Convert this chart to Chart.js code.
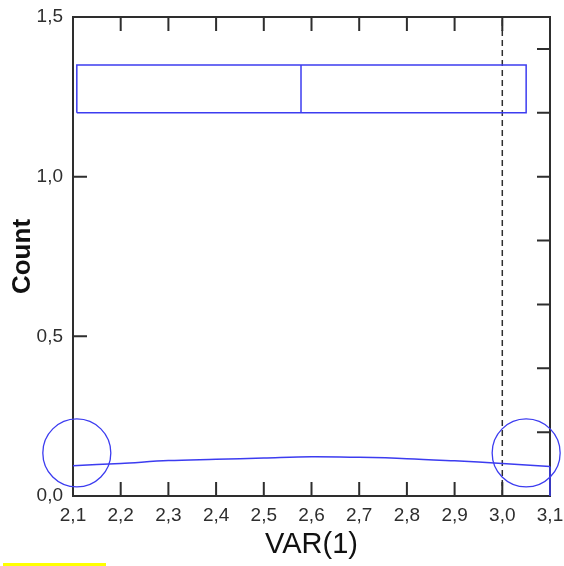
<!DOCTYPE html>
<html>
<head>
<meta charset="utf-8">
<script src="https://cdn.jsdelivr.net/npm/chart.js@4/dist/chart.umd.min.js"></script>
<style>
    html, body { margin: 0; padding: 0; background: #fff; }
    #wrap { position: relative; width: 564px; height: 566px; }
    #marker { position: absolute; left: 3px; top: 563px; width: 103px; height: 3px; background: #ffff00; }
</style>
</head>
<body>
<div id="wrap">
    <canvas id="chart" width="564" height="566"></canvas>
    <div id="marker"></div>
</div>
<script>
    // axis ticks
    var xTicks = [2.1, 2.2, 2.3, 2.4, 2.5, 2.6, 2.7, 2.8, 2.9, 3.0, 3.1];
    var yTicks = [0, 0.5, 1.0, 1.5];
    var rightTicks = [0.2, 0.4, 0.6, 0.8, 1.0, 1.2, 1.4];

    // observed values (the two cases)
    var pointX = [2.108, 3.05];
    var pointY = [0.135, 0.135];

    // box plot at top
    var boxMedian = 2.578;
    var boxBottom = 1.2;
    var boxTop = 1.35;

    // reference line
    var refX = 3.0;

    // smoothed density
    var curveX = [2.1, 2.2, 2.3, 2.4, 2.5, 2.6, 2.7, 2.8, 2.9, 3.0, 3.1];
    var curveY = [0.095, 0.102, 0.111, 0.115, 0.119, 0.123, 0.121, 0.117, 0.110, 0.102, 0.092];

    var BLUE = '#3c3cf0';
    var INK = '#2e2e2e';
    var FONT = '"Liberation Sans", Arial, sans-serif';

    function fmt(v) {
        return Number(v).toFixed(1).replace('.', ',');
    }

    function xy(xs, ys) {
        return xs.map(function (x, i) { return { x: x, y: ys[i] }; });
    }

    var last = curveX.length - 1;
    var lo = pointX[0], hi = pointX[pointX.length - 1];

    var datasets = [
        {   // density curve
            data: xy(curveX, curveY),
            showLine: true, borderColor: BLUE, borderWidth: 1.5,
            pointRadius: 0, tension: 0.35, clip: false
        },
        {   // curve closes down to the axis on the right
            data: [{ x: curveX[last], y: curveY[last] }, { x: curveX[last], y: 0 }],
            showLine: true, borderColor: BLUE, borderWidth: 1.5,
            pointRadius: 0, clip: false
        },
        {   // case markers
            data: xy(pointX, pointY),
            showLine: false, pointStyle: 'circle', pointRadius: 34,
            pointBorderColor: BLUE, pointBackgroundColor: 'rgba(0,0,0,0)',
            pointBorderWidth: 1.3, pointHoverRadius: 34, clip: false
        },
        {   // box
            data: [
                { x: lo, y: boxBottom }, { x: lo, y: boxTop },
                { x: hi, y: boxTop }, { x: hi, y: boxBottom },
                { x: lo, y: boxBottom }
            ],
            showLine: true, borderColor: BLUE, borderWidth: 1.5,
            pointRadius: 0, clip: false
        },
        {   // median
            data: [{ x: boxMedian, y: boxBottom }, { x: boxMedian, y: boxTop }],
            showLine: true, borderColor: BLUE, borderWidth: 1.5,
            pointRadius: 0, clip: false
        },
        {   // dashed reference line
            data: [{ x: refX, y: yTicks[0] }, { x: refX, y: yTicks[yTicks.length - 1] }],
            showLine: true, borderColor: INK, borderWidth: 1.5, borderDash: [6, 4],
            pointRadius: 0, clip: false
        }
    ];

    // frame and inward tick marks
    var framePlugin = {
        id: 'frame',
        beforeDatasetsDraw: function (chart) {
            var ctx = chart.ctx;
            var a = chart.chartArea;
            var sx = chart.scales.x, sy = chart.scales.y;
            var len = 14;
            ctx.save();
            ctx.strokeStyle = INK;
            ctx.lineWidth = 2;
            ctx.strokeRect(a.left, a.top, a.right - a.left, a.bottom - a.top);
            ctx.beginPath();
            xTicks.slice(1, -1).forEach(function (v) {
                var px = sx.getPixelForValue(v);
                ctx.moveTo(px, a.bottom); ctx.lineTo(px, a.bottom - len);
                ctx.moveTo(px, a.top); ctx.lineTo(px, a.top + len);
            });
            yTicks.slice(1, -1).forEach(function (v) {
                var py = sy.getPixelForValue(v);
                ctx.moveTo(a.left, py); ctx.lineTo(a.left + len, py);
            });
            rightTicks.forEach(function (v) {
                var py = sy.getPixelForValue(v);
                ctx.moveTo(a.right, py); ctx.lineTo(a.right - len + 1, py);
            });
            ctx.stroke();
            ctx.restore();
        }
    };

    new Chart(document.getElementById('chart').getContext('2d'), {
        type: 'scatter',
        data: { datasets: datasets },
        plugins: [framePlugin],
        options: {
            responsive: false,
            animation: false,
            events: [],
            layout: { autoPadding: false, padding: { top: 17, right: 14, left: 0, bottom: 0 } },
            plugins: { legend: { display: false }, tooltip: { enabled: false } },
            scales: {
                x: {
                    type: 'linear', min: 2.1, max: 3.1,
                    afterBuildTicks: function (scale) {
                        scale.ticks = xTicks.map(function (v) { return { value: v }; });
                    },
                    afterFit: function (scale) {
                        scale.height = 70;
                        scale.paddingLeft = 0;
                        scale.paddingRight = 0;
                    },
                    grid: { display: false, drawTicks: false },
                    border: { display: false },
                    ticks: {
                        padding: 8, maxRotation: 0, autoSkip: false,
                        color: INK, font: { family: FONT, size: 19 },
                        callback: fmt
                    },
                    title: {
                        display: true, text: 'VAR(1)', color: '#111',
                        font: { family: FONT, size: 29 },
                        padding: { top: 0, bottom: 4 }
                    }
                },
                y: {
                    type: 'linear', min: 0, max: 1.5,
                    afterBuildTicks: function (scale) {
                        scale.ticks = yTicks.map(function (v) { return { value: v }; });
                    },
                    afterFit: function (scale) {
                        scale.width = 73;
                        scale.paddingTop = 0;
                        scale.paddingBottom = 0;
                    },
                    grid: { display: false, drawTicks: false },
                    border: { display: false },
                    ticks: {
                        padding: 10, autoSkip: false,
                        color: INK, font: { family: FONT, size: 19 },
                        callback: fmt
                    },
                    title: {
                        display: true, text: 'Count', color: '#111',
                        font: { family: FONT, size: 26, weight: 'bold' },
                        padding: { top: 7, bottom: 0 }
                    }
                }
            }
        }
    });
</script>
</body>
</html>
